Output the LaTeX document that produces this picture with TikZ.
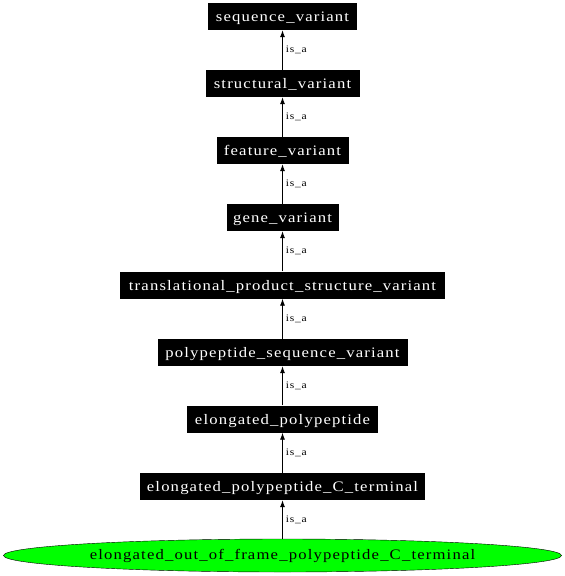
\documentclass[tikz,border=0pt]{standalone}
\usepackage{fontspec}
\setmainfont{Liberation Serif}
\newfontfamily\gvfont[FakeStretch=1.15,LetterSpace=8]{Liberation Serif}
\usetikzlibrary{shapes.geometric,arrows.meta}
\begin{document}
\begin{tikzpicture}[x=1pt,y=-1pt,
  term/.style={fill=black,text=white,font=\gvfont\fontsize{14.5}{16}\selectfont,inner sep=0pt,minimum height=27pt,text depth=0pt},
  leaf/.style={ellipse,draw=black,fill=green,font=\gvfont\fontsize{14.5}{16}\selectfont,minimum width=558pt,minimum height=33pt,inner sep=0pt},
  isa/.style={-{Latex[length=7pt,width=5pt]},line width=0.8pt},
  lab/.style={font=\gvfont\fontsize{10}{12}\selectfont,anchor=west,inner sep=0pt}]
\useasboundingbox (0,0) rectangle (565,576);
\node[term,minimum width=149pt] (n1) at (282.5,16.5) {sequence\_variant};
\node[term,minimum width=154pt] (n2) at (282.5,83.5) {structural\_variant};
\node[term,minimum width=132pt] (n3) at (282.5,150.5) {feature\_variant};
\node[term,minimum width=112pt] (n4) at (282.5,217.5) {gene\_variant};
\node[term,minimum width=325pt] (n5) at (282.5,285) {translational\_product\_structure\_variant};
\node[term,minimum width=250pt] (n6) at (282.5,352.5) {polypeptide\_sequence\_variant};
\node[term,minimum width=191pt] (n7) at (282.5,419) {elongated\_polypeptide};
\node[term,minimum width=285pt] (n8) at (282.5,486.5) {elongated\_polypeptide\_C\_terminal};
\node[leaf] (n9) at (282.5,555.5) {elongated\_out\_of\_frame\_polypeptide\_C\_terminal};
\foreach \a/\b in {n2/n1,n3/n2,n4/n3,n5/n4,n6/n5,n7/n6,n8/n7,n9/n8}{
  \draw[isa] (\a.north) -- (\b.south) node[lab,midway,xshift=3pt] {is\_a};
}
\end{tikzpicture}
\end{document}
